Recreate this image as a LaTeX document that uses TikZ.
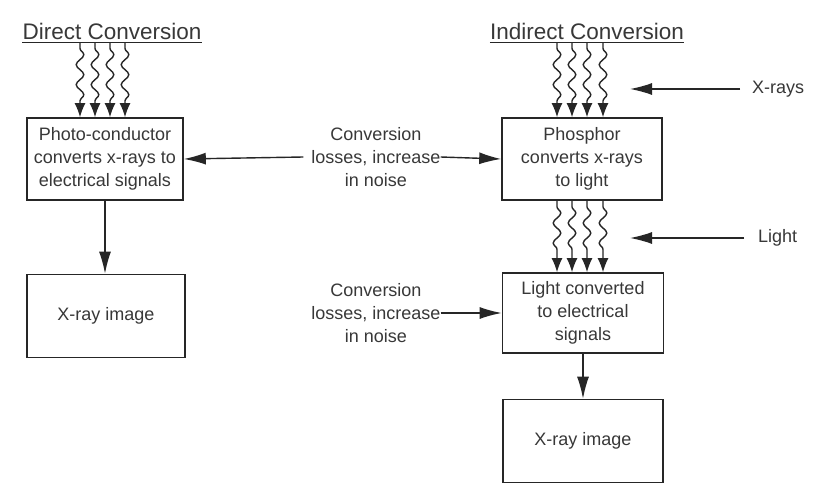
\documentclass[tikz,border=0pt]{standalone}
\usepackage{fontspec}
\setmainfont{Liberation Sans}
\usetikzlibrary{arrows.meta,decorations.pathmorphing,calc}
\begin{document}
\begin{tikzpicture}[x=1pt,y=-1pt,
  ink/.style={draw=black!85,line width=1.6pt},
  txt/.style={text=black!78,font=\fontsize{18}{23}\selectfont,align=center,inner sep=0pt},
  box/.style={ink,txt,minimum height=82pt},
  title/.style={text=black!78,font=\fontsize{22.5}{26}\selectfont,inner xsep=0pt,inner ysep=2pt,anchor=base},
  arr/.style={ink,line width=1.4pt,-{Latex[length=22pt,width=12pt]}},
  wavy/.style={ink,line width=1.4pt,-{Latex[length=14pt,width=11pt]},decorate,
    decoration={snake,amplitude=3.8pt,segment length=20pt,pre length=6pt,post length=14pt}}]
\useasboundingbox (0,0) rectangle (822,500);
\fill[white] (0,0) rectangle (822,500);
% titles
\node[title] (t1) at (112,40) {Direct Conversion};
\node[title] (t2) at (587,40) {Indirect Conversion};
\draw[ink,line width=1.2pt] (t1.south west) -- (t1.south east);
\draw[ink,line width=1.2pt] (t2.south west) -- (t2.south east);
% boxes
\node[box,minimum width=156pt] (b1) at (105,159) {Photo-conductor\\converts x-rays to\\electrical signals};
\node[box,minimum width=158pt,minimum height=83pt] (i1) at (106,316) {X-ray image};
\node[box,minimum width=160pt] (b2) at (582,159) {Phosphor\\converts x-rays\\to light};
\node[box,minimum width=161pt,minimum height=80pt] (b3) at (583,313) {Light converted\\to electrical\\signals};
\node[box,minimum width=160pt,minimum height=83pt] (i2) at (583,441) {X-ray image};
% side texts
\node[txt] (c1) at (376,157) {Conversion\\losses, increase\\in noise};
\node[txt] (c2) at (376,313) {Conversion\\losses, increase\\in noise};
\node[txt,anchor=west] (xr) at (752,89) {X-rays};
\node[txt,anchor=west] (li) at (758,238) {Light};
\coordinate (xa) at (630,89);
\coordinate (la) at (630,238);
% wavy arrows
\foreach \x in {80,95,110,125}
  \draw[wavy] (\x,0 |- t1.south) -- (\x,0 |- b1.north);
\foreach \x in {557,572,587,603} {
  \draw[wavy] (\x,0 |- t2.south) -- (\x,0 |- b2.north);
  \draw[wavy] (\x,0 |- b2.south) -- (\x,0 |- b3.north);
}
% straight arrows
\draw[arr] (b1.south) -- (b1.south |- i1.north);
\draw[arr] (b3.south) -- (b3.south |- i2.north);
\draw[arr] ([xshift=-8pt]c1.west) -- (b1.east);
\draw[arr] (c1.east) -- (b2.west);
\draw[arr] (c2.east) -- (b3.west);
\draw[arr] ([xshift=-12pt]xr.west) -- (xa);
\draw[arr] ([xshift=-14pt]li.west) -- (la);
\end{tikzpicture}
\end{document}
